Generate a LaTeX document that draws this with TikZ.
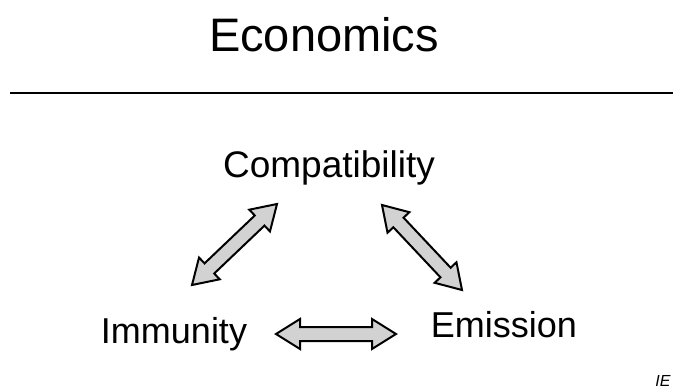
\documentclass[tikz,border=0pt]{standalone}
\usepackage{fontspec}
\setmainfont{Liberation Sans}
\usetikzlibrary{calc}

% double-headed block arrow between two named points
\newcommand\blockarrow[2]{%
  \path ($(#1)!\headlen!(#2)$) coordinate (h1) ($(#2)!\headlen!(#1)$) coordinate (h2);
  \draw[blockarrow] (#1)
    -- ($(h1)!\headhw!90:(#2)$) -- ($(h1)!\shafthw!90:(#2)$)
    -- ($(h2)!\shafthw!-90:(#1)$) -- ($(h2)!\headhw!-90:(#1)$)
    -- (#2)
    -- ($(h2)!\headhw!90:(#1)$) -- ($(h2)!\shafthw!90:(#1)$)
    -- ($(h1)!\shafthw!-90:(#2)$) -- ($(h1)!\headhw!-90:(#2)$)
    -- cycle;}
\newcommand\headlen{24pt}
\newcommand\headhw{15pt}
\newcommand\shafthw{7pt}

\definecolor{arrowfill}{RGB}{210,210,210}

\tikzset{
  blockarrow/.style={draw=black, fill=arrowfill, line width=2pt, line join=miter},
  label/.style={anchor=base, inner sep=0pt, text=black},
}

\begin{document}
\begin{tikzpicture}[x=1pt, y=-1pt]
  \useasboundingbox (0,0) rectangle (673,388);

  \node[label, font=\fontsize{47}{50}\selectfont] (title) at (324,52) {Economics};
  \draw[line width=2pt] (10,93) coordinate (rulel) -- (673,93) coordinate (ruler);

  \node[label, font=\fontsize{37}{40}\selectfont] (comp) at (329,177) {Compatibility};
  \node[label, font=\fontsize{36}{40}\selectfont] (imm) at (174,343) {Immunity};
  \node[label, font=\fontsize{36}{40}\selectfont] (emi) at (504,337) {Emission};
  \node[label, font=\fontsize{16}{18}\selectfont\itshape] (ie) at (663,386) {IE};

  % arrow tips
  \coordinate (ci) at (277,204);
  \coordinate (ic) at (192,285);
  \coordinate (ce) at (382,205);
  \coordinate (ec) at (462,290);
  \coordinate (ie1) at (276,334);
  \coordinate (ei) at (396,334);

  \blockarrow{ic}{ci}
  \blockarrow{ce}{ec}
  \blockarrow{ie1}{ei}
\end{tikzpicture}
\end{document}
